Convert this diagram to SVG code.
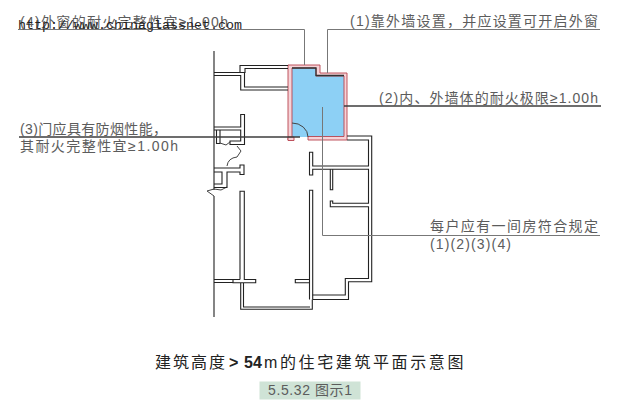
<svg xmlns="http://www.w3.org/2000/svg" width="617" height="403" viewBox="0 0 617 403">
<style>
.t{font-family:"Liberation Sans","Noto Sans CJK SC",sans-serif;font-size:14px;fill:#5c5c5c}
.w{fill:none;stroke:#222;stroke-width:1.1}
.thin{fill:none;stroke:#444;stroke-width:1}
.lead{fill:none;stroke:#777;stroke-width:1}
.heavy{fill:none;stroke:#3c3c3c;stroke-width:1.6}
.title{font-family:"Liberation Sans","Noto Sans CJK SC",sans-serif;font-size:16px;fill:#222}
</style>
<rect width="617" height="403" fill="#fff"/>
<g id="plan">
<polygon points="292,67 316,67 316,75 344,75 344,137 292,137" fill="#8dd0f5"/>
<path d="M288 65H320V73H347V140H308V136.500H344V76H316V68H292V140H288Z" fill="#f6d3d8" stroke="#b8434f" stroke-width="0.900"/>
<path d="M288 137H294V140.500H288Z" fill="#f6d3d8" stroke="#b8434f" stroke-width="0.900"/>
<path d="M292 68H316V75.500H344" stroke="#333" stroke-width="1.300" fill="none"/>
<path d="M292 123A16 14 0 0 1 308 137" fill="none" stroke="#444" stroke-width="1"/>
<path class="w" d="M214 51V190M214 196V317"/>
<path class="thin" d="M207 191L214 196M207 191L214 189L221 190L227 187"/>
<path class="w" d="M240 73V65.500H288M245 73V68.500H288"/>
<path class="w" d="M214 72.500H244.500V87H288M214 75.500H240.700V90H288"/>
<path class="w" d="M214 127H240.700V114.500H244.500V144.500H230V141H240.700V130H214M216.500 130V143.500H220V130"/>
<path class="thin" d="M220 143L226 145L230 142M237 146L241 151L237 157M237 157Q228 158 227 166"/>
<path class="w" d="M214 168H240V165H244V174.500H240V172H227V187.500H214M214 172H222V184H214"/>
<path class="w" d="M240 279.500V191.300H244.300V279.500H255.700V282.700H233V279.500H240M233 279.500H214M233 282.500H214"/>
<path class="w" d="M240.700 283V309.300H312.300V299.500M243.500 283V307H310"/>
<path class="w" d="M309.500 299.500V190.300H312.700V299.500M309.500 279.500H295.300V282.700H309.500"/>
<path class="w" d="M312.500 295H345.300V278.500H368.500V206.700H330.300V201H332.700V203.300H368.500V169.300H312.700V175H309.500V152.300H312.700V166H368.500V140H347M347 136H371.700V281.700H348.500V299.500H312.500"/>
<path class="w" d="M330.300 169.300V189.700H332.700V169.300"/>
</g>
<g id="connectors">
<path class="lead" d="M18 29.500H304.500V65"/>
<path class="lead" d="M327.500 73V29.500H600"/>
<path class="heavy" d="M344 106H601"/>
<path class="heavy" d="M19 137H300"/>
<path class="lead" d="M322.500 107V235.500H600" stroke-width="1.200"/>
</g>
<g id="labels">
<text class="t" x="20" y="27" textLength="208">(4)外窗的耐火完整性宜≥1.00h</text>
<text x="18" y="29" textLength="224" style="font-family:'Liberation Mono',monospace;font-size:13.300px;fill:#222">http://www.chinaglassnet.com</text>
<text class="t" x="350" y="26" textLength="248">(1)靠外墙设置，并应设置可开启外窗</text>
<text class="t" x="379" y="103" textLength="219">(2)内、外墙体的耐火极限≥1.00h</text>
<text class="t" x="20" y="134" textLength="147">(3)门应具有防烟性能，</text>
<text class="t" x="20" y="151" textLength="158">其耐火完整性宜≥1.00h</text>
<text class="t" x="430" y="231" textLength="168">每户应有一间房符合规定</text>
<text class="t" x="430" y="249" textLength="81">(1)(2)(3)(4)</text>
<text class="title" y="368"><tspan x="155" letter-spacing="2">建筑高度</tspan><tspan x="229" font-weight="bold">&gt;</tspan><tspan x="244" font-weight="bold">54</tspan><tspan x="264">m</tspan><tspan x="280" letter-spacing="2.600">的住宅建筑平面示意图</tspan></text>
<rect x="259.500" y="381.500" width="101" height="18" fill="#cfe3d6"/>
<text class="t" x="268" y="395" textLength="84">5.5.32 图示1</text>
</g>
</svg>
